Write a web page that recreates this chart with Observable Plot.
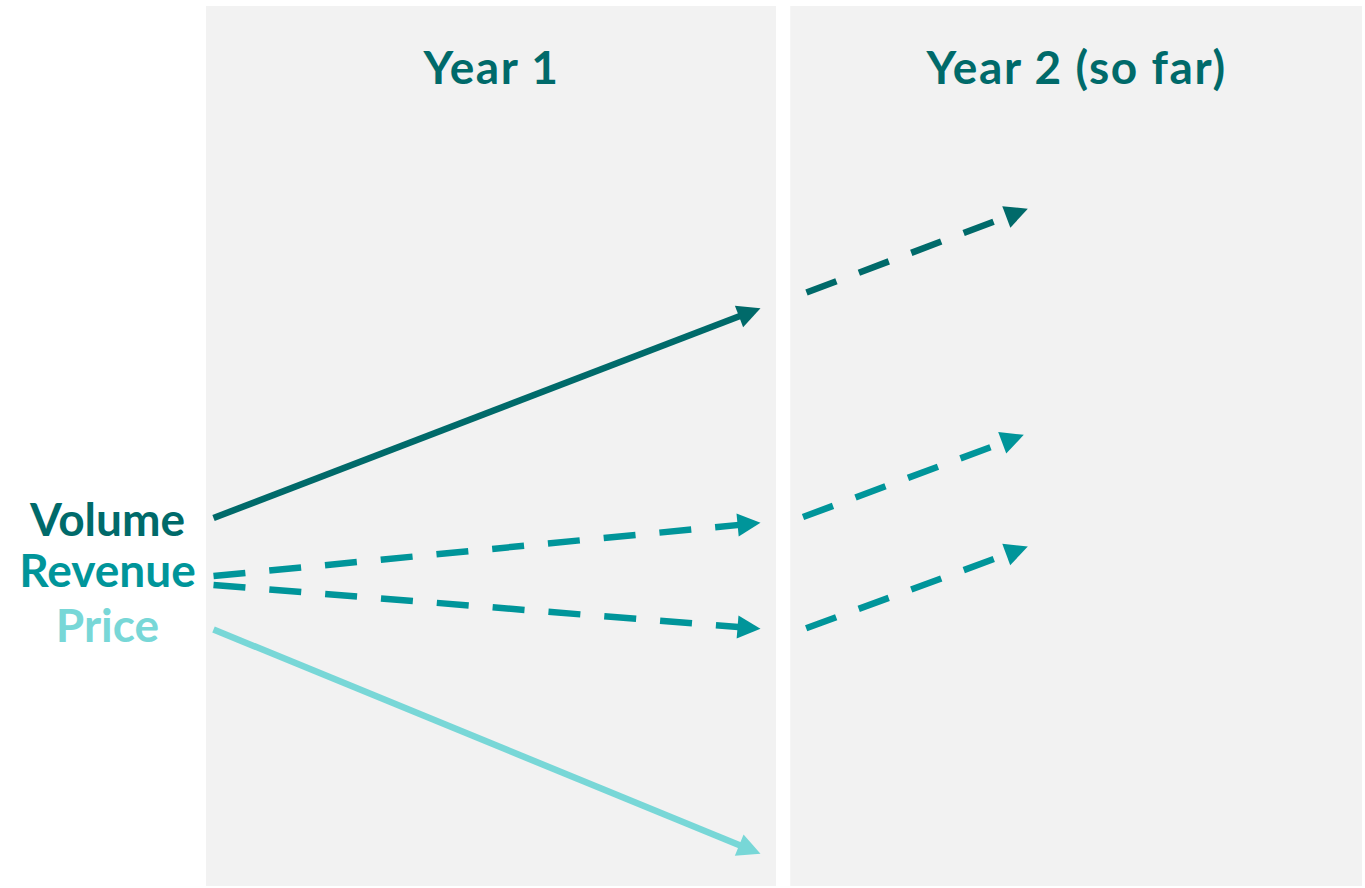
<!DOCTYPE html>
<html>
<head>
<meta charset="utf-8">
<script src="https://cdn.jsdelivr.net/npm/d3@7"></script>
<script src="https://cdn.jsdelivr.net/npm/@observablehq/plot@0.6"></script>
<style>
  html, body { margin: 0; padding: 0; background: #ffffff; }
  #chart svg { display: block; }
</style>
</head>
<body>
<div id="chart"></div>
<script>
// ---- data (x: time in years, y: index level) ----
const periods      = ["Year 1", "Year 2 (so far)"];
const panelStart   = [0, 1.025];
const panelEnd     = [1, 2.028];
const panelTop     = [5.74, 5.74];
const panelBottom  = [-3.06, -3.06];

const seriesNames  = ["Volume", "Revenue", "Price"];
const seriesColors = ["#006a6a", "#00959a", "#78d7d7"];
const labelLevel   = [0.59, 0.08, -0.47];

const arrowPeriod  = ["Year 1", "Year 1", "Year 1", "Year 1", "Year 2 (so far)", "Year 2 (so far)", "Year 2 (so far)"];
const arrowSeries  = ["Volume", "Revenue", "Revenue", "Price", "Volume", "Revenue", "Revenue"];
const arrowX1      = [0.0123, 0.0123, 0.0123, 0.0123, 1.0526, 1.0465, 1.0520];
const arrowY1      = [0.625, 0.045, -0.045, -0.490, 2.880, 0.635, -0.478];
const arrowX2      = [0.9719, 0.9719, 0.9719, 0.9719, 1.4409, 1.4338, 1.4409];
const arrowY2      = [2.723, 0.577, -0.483, -2.733, 3.717, 1.457, 0.340];

// ---- layout ----
const W = 1365, H = 888;
const xDomain = [-0.3614, 2.0333];
const yDomain = [-3.08, 5.80];
const headLead = 8; // px by which the filled head extends past the line end

const xs = d3.scaleLinear(xDomain, [0, W]);
const ys = d3.scaleLinear(yDomain, [H, 0]);

const panels = periods.map((p, i) => ({
  period: p, x1: panelStart[i], x2: panelEnd[i], y1: panelBottom[i], y2: panelTop[i],
  xc: (panelStart[i] + panelEnd[i]) / 2
}));

const labels = seriesNames.map((s, i) => ({series: s, y: labelLevel[i], x: panelStart[0]}));

const arrows = arrowSeries.map((s, i) => {
  const px1 = xs(arrowX1[i]), py1 = ys(arrowY1[i]);
  const px2 = xs(arrowX2[i]), py2 = ys(arrowY2[i]);
  const len = Math.hypot(px2 - px1, py2 - py1);
  const ex = px2 - headLead * (px2 - px1) / len;
  const ey = py2 - headLead * (py2 - py1) / len;
  return {
    series: s, period: arrowPeriod[i],
    x1: arrowX1[i], y1: arrowY1[i],
    x2: xs.invert(ex), y2: ys.invert(ey),
    dashed: s === "Revenue" || arrowPeriod[i] !== periods[0]
  };
});

const titleColor = "#006a6a";

const plot = Plot.plot({
  width: W,
  height: H,
  margin: 0,
  x: {domain: xDomain, axis: null},
  y: {domain: yDomain, axis: null},
  color: {domain: seriesNames, range: seriesColors},
  style: {background: "#ffffff", fontFamily: "Lato, 'Open Sans', sans-serif"},
  marks: [
    Plot.rect(panels, {x1: "x1", x2: "x2", y1: "y1", y2: "y2", fill: "#f2f2f2"}),
    Plot.text(panels, {
      x: "xc", text: "period", frameAnchor: "top", lineAnchor: "middle", dy: 69,
      fill: titleColor, fontSize: 46, fontWeight: "bold"
    }),
    Plot.text(labels, {
      x: "x", y: "y", text: "series", fill: "series", dx: -99,
      textAnchor: "middle", fontSize: 46, fontWeight: "bold"
    }),
    Plot.link(arrows.filter(d => !d.dashed), {
      x1: "x1", y1: "y1", x2: "x2", y2: "y2", stroke: "series",
      strokeWidth: 6.5, strokeLinecap: "butt", markerEnd: "arrow"
    }),
    Plot.link(arrows.filter(d => d.dashed), {
      x1: "x1", y1: "y1", x2: "x2", y2: "y2", stroke: "series",
      strokeWidth: 6.5, strokeLinecap: "butt", strokeDasharray: "32,24", markerEnd: "arrow"
    })
  ]
});

// slightly wider title spacing (reference typeface is wider than Lato)
const textGroups = plot.querySelectorAll('g[aria-label="text"]');
if (textGroups[0]) textGroups[0].style.letterSpacing = "1.6px";

// turn Plot's open arrow markers into filled triangular heads
plot.querySelectorAll("marker").forEach(m => {
  const c = m.getAttribute("stroke");
  m.removeAttribute("viewBox");
  m.setAttribute("markerUnits", "userSpaceOnUse");
  m.setAttribute("markerWidth", 60);
  m.setAttribute("markerHeight", 60);
  m.setAttribute("refX", 0);
  m.setAttribute("refY", 0);
  m.setAttribute("overflow", "visible");
  m.setAttribute("fill", c);
  m.setAttribute("stroke", "none");
  const p = m.querySelector("path");
  if (p) p.setAttribute("d", `M${-23 + headLead},-11.5L${headLead},0L${-23 + headLead},11.5Z`);
});

document.getElementById("chart").appendChild(plot);
</script>
</body>
</html>
